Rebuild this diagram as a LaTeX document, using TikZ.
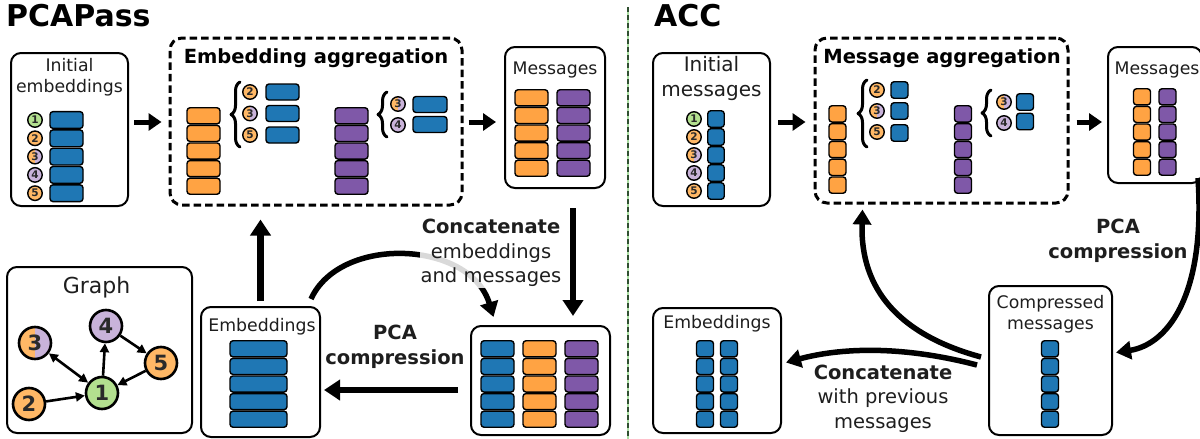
\documentclass[tikz,border=0pt]{standalone}
\usepackage{fontspec}
\setmainfont{DejaVu Sans}
\usetikzlibrary{arrows.meta,calc,decorations.pathreplacing}
\definecolor{cblue}{HTML}{1F77B4}
\definecolor{corange}{HTML}{FFA343}
\definecolor{cpurple}{HTML}{7F58A8}
\definecolor{cgreenl}{HTML}{B3E08F}
\definecolor{corangel}{HTML}{FFB866}
\definecolor{cpurplel}{HTML}{C9B3DA}
\definecolor{txt}{HTML}{1E1E1E}
\definecolor{dtxt}{HTML}{2A2A2A}
\definecolor{divdark}{HTML}{2F4F2F}
\definecolor{divlight}{HTML}{A8DCA0}
\newcommand\lab{\fontsize{17.3}{21}\selectfont}
\newcommand\ann{\fontsize{19.5}{24.5}\selectfont}
\newcommand\stackcol[6]{%
  \foreach \i in {1,...,5}{\node[bar, minimum width=#4, minimum height={#6-1.5}, fill=#5] (#1\i) at (#2,{#3+(\i-0.5)*#6}) {};}}
\tikzset{
  every node/.style={text=txt},
  box/.style={draw, line width=2pt, rounded corners=10pt, inner sep=0pt},
  dbox/.style={draw, line width=3pt, dash pattern=on 7.5pt off 4pt, rounded corners=12pt, inner sep=0pt},
  bar/.style={draw, line width=1.4pt, rounded corners=3pt, inner sep=0pt},
  nc/.style={circle, draw, line width=1.4pt, minimum size=14.5pt, inner sep=0pt, font=\bfseries\fontsize{10.5}{11}\selectfont, text=dtxt},
  gn/.style={circle, draw, line width=2.6pt, minimum size=32pt, inner sep=0pt, font=\bfseries\fontsize{21}{21}\selectfont, text=dtxt},
  half/.style={fill=corangel, path picture={\fill[cpurplel] (path picture bounding box.north) rectangle (path picture bounding box.south east);}},
  harrow/.style={line width=5pt, -{Triangle[length=13pt,width=17pt]}},
  bigarrow/.style={line width=6.5pt, -{Triangle[length=16pt,width=20pt]}},
  carrow/.style={line width=5.5pt, -{Triangle[length=15pt,width=18pt]}},
  garrow/.style={line width=2.6pt, -{Triangle[length=9pt,width=9pt]}},
  brc/.style={decorate, decoration={brace, amplitude=9pt}, line width=3pt, line cap=round, line join=round},
  titl/.style={font=\bfseries\fontsize{30}{30}\selectfont, text=black, inner sep=0pt, anchor=base west},
  sect/.style={font=\bfseries\fontsize{19.5}{20}\selectfont, text=black, inner sep=0pt, anchor=base}
}
\begin{document}
\begin{tikzpicture}[x=1pt,y=-1pt]
\clip (0,0) rectangle (1200,439);
\fill[white] (0,0) rectangle (1200,439);

% ================= PCAPass =================
\node[titl] (t1) at (6,27) {PCAPass};

% Initial embeddings
\node[box, minimum width=117pt, minimum height=153pt] (ib) at (69.5,129.5) {};
\node[anchor=north, align=center, font=\lab, inner sep=0pt] (ibl) at (69.5,58) {Initial\\embeddings};
\node[nc, fill=cgreenl] (ic1) at (35,120) {1};
\node[nc, fill=corangel] (ic2) at (35,138.3) {2};
\node[nc, half] (ic3) at (35,156.6) {3};
\node[nc, fill=cpurplel] (ic4) at (35,174.9) {4};
\node[nc, fill=corangel] (ic5) at (35,193.2) {5};
\stackcol{ie}{66.5}{110.85}{33pt}{cblue}{18.3}

% Embedding aggregation
\node[dbox, minimum width=292pt, minimum height=167pt] (agg) at (316,121.5) {};
\node[sect] (aggt) at (316,63) {Embedding aggregation};
\stackcol{ao}{203.5}{107}{33pt}{corange}{17.6}
\coordinate (b1a) at (240,147); \coordinate (b1b) at (240,82);
\draw[brc] (b1a) -- (b1b);
\node[nc, fill=corangel] (a1c2) at (250,92) {2};
\node[nc, half] (a1c3) at (250,113.5) {3};
\node[nc, fill=corangel] (a1c5) at (250,135) {5};
\node[bar, minimum width=33pt, minimum height=16pt, fill=cblue] (a1b2) at (282.5,92) {};
\node[bar, minimum width=33pt, minimum height=16pt, fill=cblue] (a1b3) at (282.5,113.5) {};
\node[bar, minimum width=33pt, minimum height=16pt, fill=cblue] (a1b5) at (282.5,135) {};
\stackcol{ap}{351.5}{107}{33pt}{cpurple}{17.6}
\coordinate (b2a) at (387,137); \coordinate (b2b) at (387,92);
\draw[brc] (b2a) -- (b2b);
\node[nc, half] (a2c3) at (398,104) {3};
\node[nc, fill=cpurplel] (a2c4) at (398,125) {4};
\node[bar, minimum width=34pt, minimum height=16pt, fill=cblue] (a2b3) at (430,104.5) {};
\node[bar, minimum width=34pt, minimum height=16pt, fill=cblue] (a2b4) at (430,124.5) {};

% Messages
\node[box, minimum width=100pt, minimum height=141pt] (msg) at (555,117.5) {};
\node[anchor=base, font=\lab, inner sep=0pt] (msgl) at (555,74) {Messages};
\stackcol{mo}{531.5}{89}{33pt}{corange}{17.6}
\stackcol{mp}{573.5}{89}{33pt}{cpurple}{17.6}

\draw[harrow] ($(ib.east)+(5,-7.5)$) -- ($(agg.west)+(-7,0.5)$);
\draw[harrow] ($(agg.east)+(5,0.5)$) -- ($(msg.west)+(-8,4.5)$);

% Concatenated
\node[box, minimum width=139pt, minimum height=109pt] (cc) at (540.5,380.5) {};
\stackcol{cb}{497.5}{340}{33pt}{cblue}{17.6}
\stackcol{co}{539.5}{340}{33pt}{corange}{17.6}
\stackcol{cp}{581.5}{340}{33pt}{cpurple}{17.6}

% Embeddings
\node[box, minimum width=119pt, minimum height=130pt] (emb) at (260.5,372) {};
\node[anchor=base, font=\lab, inner sep=0pt] (embl) at (262,331) {Embeddings};
\stackcol{eb}{258.5}{340}{57pt}{cblue}{17.6}

% Graph
\node[box, minimum width=185pt, minimum height=166pt] (gb) at (99.5,350) {};
\node[anchor=base, font=\fontsize{22}{22}\selectfont, inner sep=0pt] (gbl) at (96.5,293) {Graph};
\node[gn, half] (g3) at (35,343) {3};
\node[gn, fill=cpurplel] (g4) at (106,326) {4};
\node[gn, fill=corangel] (g5) at (161,363) {5};
\node[gn, fill=cgreenl] (g1) at (102,393) {1};
\node[gn, fill=corangel] (g2) at (29,404) {2};
\draw[garrow, {Triangle[length=9pt,width=9pt]}-{Triangle[length=9pt,width=9pt]}] (g3) -- (g1);
\draw[garrow] (g1) -- (g4);
\draw[garrow] (g4) -- (g5);
\draw[garrow] (g5) -- (g1);
\draw[garrow] (g2) -- (g1);

% arrows
\draw[carrow] ($(emb.north east)+(-10,-7)$) .. controls (340,235) and (470,240) .. ($(cc.north)+(-47,-8)$);
\node[anchor=north, align=center, font=\ann, fill=white, fill opacity=0.85, text opacity=1, inner sep=1pt] (cat) at (491,218) {\textbf{Concatenate}\\embeddings\\and messages};
\draw[bigarrow] ($(msg.south)+(18,19)$) -- ($(cc.north)+(32.5,-9)$);
\node[align=center, font=\ann\bfseries] (pca1) at (395,347) {PCA\\compression};
\draw[bigarrow] ($(cc.west)+(-12,9.5)$) -- ($(emb.east)+(3,18)$);
\draw[bigarrow] ($(emb.north)+(0,-5)$) -- ($(agg.south)+(-55.5,13)$);

% divider
\coordinate (d1) at (628,7); \coordinate (d2) at (628,439);
\draw[divlight, line width=1.6pt] (d1) -- (d2);
\draw[divdark, line width=1.6pt, dash pattern=on 5pt off 3pt] (d1) -- (d2);

% ================= ACC =================
\node[titl] (t2) at (654,27) {ACC};

\node[box, minimum width=117pt, minimum height=153pt] (aib) at (711.5,129.5) {};
\node[anchor=north, align=center, font=\fontsize{20}{25}\selectfont, inner sep=0pt] (aibl) at (711.5,56) {Initial\\messages};
\node[nc, fill=cgreenl] (aic1) at (694,119) {1};
\node[nc, fill=corangel] (aic2) at (694,137) {2};
\node[nc, half] (aic3) at (694,155) {3};
\node[nc, fill=cpurplel] (aic4) at (694,173) {4};
\node[nc, fill=corangel] (aic5) at (694,191) {5};
\stackcol{aie}{716}{110}{16.5pt}{cblue}{18}

\node[dbox, minimum width=253pt, minimum height=165pt] (aagg) at (941.5,120.5) {};
\node[sect] (aaggt) at (942,63) {Message aggregation};
\stackcol{aao}{837.5}{105}{17pt}{corange}{17.8}
\coordinate (b3a) at (867,147); \coordinate (b3b) at (867,80);
\draw[brc] (b3a) -- (b3b);
\node[nc, fill=corangel] (a3c2) at (877,90) {2};
\node[nc, half] (a3c3) at (877,111) {3};
\node[nc, fill=corangel] (a3c5) at (877,132) {5};
\node[bar, minimum width=17pt, minimum height=16.5pt, fill=cblue] (a3b2) at (899.5,90) {};
\node[bar, minimum width=17pt, minimum height=16.5pt, fill=cblue] (a3b3) at (899.5,111) {};
\node[bar, minimum width=17pt, minimum height=16.5pt, fill=cblue] (a3b5) at (899.5,133) {};
\stackcol{aap}{963}{105}{17pt}{cpurple}{17.8}
\coordinate (b4a) at (991,136); \coordinate (b4b) at (991,90);
\draw[brc] (b4a) -- (b4b);
\node[nc, half] (a4c3) at (1004,102) {3};
\node[nc, fill=cpurplel] (a4c4) at (1004,123) {4};
\node[bar, minimum width=17pt, minimum height=16.5pt, fill=cblue] (a4b3) at (1025,102) {};
\node[bar, minimum width=17pt, minimum height=16.5pt, fill=cblue] (a4b4) at (1025,121.5) {};

\node[box, minimum width=94pt, minimum height=136pt] (amsg) at (1155,115) {};
\node[anchor=base, font=\lab, inner sep=0pt] (amsgl) at (1157,74) {Messages};
\stackcol{amo}{1142}{88}{17pt}{corange}{17.6}
\stackcol{amp}{1167.5}{88}{17pt}{cpurple}{17.6}

\draw[harrow] ($(aib.east)+(7,-7.5)$) -- ($(aagg.west)+(-8,1.5)$);
\draw[harrow] ($(aagg.east)+(7,1.5)$) -- ($(amsg.west)+(-5,7)$);

% compressed
\node[box, minimum width=123pt, minimum height=149pt] (acb) at (1050.5,360.5) {};
\node[anchor=north, align=center, font=\lab, inner sep=0pt] (acbl) at (1050.5,295) {Compressed\\messages};
\stackcol{acm}{1050}{340}{17pt}{cblue}{17.6}

% ACC embeddings
\node[box, minimum width=128pt, minimum height=125pt] (aemb) at (717,370.5) {};
\node[anchor=base, font=\lab, inner sep=0pt] (aembl) at (717,328) {Embeddings};
\stackcol{ae1}{705}{340}{17pt}{cblue}{17.6}
\stackcol{ae2}{729}{340}{17pt}{cblue}{17.6}

\draw[carrow] ($(amsg.south east)+(-5,-6)$) .. controls (1206,300) and (1165,345) .. ($(acb.east)+(3,-8)$);
\node[align=center, font=\ann\bfseries] (pca2) at (1118,241) {PCA\\compression};
\draw[carrow] ($(acb.west)+(-7,-3.5)$) .. controls (900,335) and (860,290) .. ($(aagg.south)+(-79,5)$);
\draw[carrow] ($(acb.west)+(-11,4.5)$) .. controls (900,345) and (840,348) .. ($(aemb.east)+(4,-8)$);
\node[anchor=north, align=center, font=\ann] (acat) at (883,361) {\textbf{Concatenate}\\with previous\\messages};
\end{tikzpicture}
\end{document}
